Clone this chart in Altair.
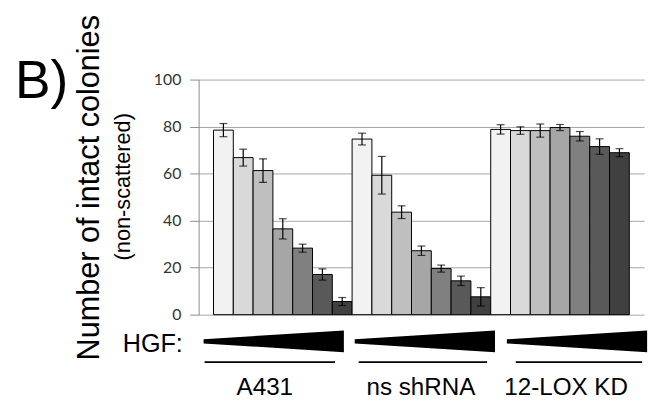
import altair as alt
import pandas as pd

groups = ["A431", "ns shRNA", "12-LOX KD"]
doses = [1, 2, 3, 4, 5, 6, 7]
means_a431 = [78.5, 66.8, 61.3, 36.5, 28.3, 17.1, 5.6]
err_a431 = [2.8, 3.6, 5.0, 4.3, 1.7, 2.4, 1.7]
means_ns = [74.7, 59.3, 43.6, 27.2, 19.6, 14.4, 7.6]
err_ns = [2.5, 8.0, 2.7, 2.0, 1.5, 2.0, 3.9]
means_lox = [78.8, 78.3, 78.3, 79.6, 75.9, 71.5, 68.9]
err_lox = [2.0, 1.6, 2.8, 1.3, 2.0, 3.3, 1.7]
shades = ["#f2f2f2", "#d9d9d9", "#bfbfbf", "#a6a6a6", "#808080", "#595959", "#404040"]
y_ticks = [0, 20, 40, 60, 80, 100]

rows = []
for g, (m, e) in enumerate(zip([means_a431, means_ns, means_lox], [err_a431, err_ns, err_lox])):
    for d in range(7):
        i = g * 7 + d
        rows.append({"group": groups[g], "dose": doses[d], "x0": i, "x1": i + 1,
                     "xc": i + 0.5, "mean": m[d], "lo": m[d] - e[d], "hi": m[d] + e[d]})
df = pd.DataFrame(rows)

xs = alt.Scale(domain=[-0.75, 21.75], nice=False, zero=False)
ys = alt.Scale(domain=[0, 100], nice=False)

base = alt.Chart(df)

bars = base.mark_rect(stroke="#000000", strokeWidth=1).encode(
    x=alt.X("x0:Q", scale=xs, axis=None),
    x2="x1:Q",
    y=alt.Y("mean:Q", scale=ys, axis=alt.Axis(
        values=y_ticks, title=None, grid=True, gridColor="#a6a6a6", gridWidth=1,
        domainColor="#8c8c8c", tickColor="#8c8c8c", tickSize=9, labelPadding=9,
        labelFont="Lato", labelFontSize=16, labelColor="#333333")),
    y2=alt.datum(0),
    fill=alt.Fill("dose:O", scale=alt.Scale(domain=doses, range=shades), legend=None),
)

err_rule = base.mark_rule(color="#000000", strokeWidth=1.2).encode(
    x=alt.X("xc:Q", scale=xs), y=alt.Y("lo:Q", scale=ys), y2="hi:Q")
cap_lo = base.mark_tick(color="#000000", orient="horizontal", size=8, thickness=1.2).encode(
    x=alt.X("xc:Q", scale=xs), y=alt.Y("lo:Q", scale=ys))
cap_hi = base.mark_tick(color="#000000", orient="horizontal", size=8, thickness=1.2).encode(
    x=alt.X("xc:Q", scale=xs), y=alt.Y("hi:Q", scale=ys))

layers = [bars, err_rule, cap_lo, cap_hi]

one = alt.Chart(pd.DataFrame({"k": [0]}))
wedge_path = "M -1 -0.03 L 1 -0.155 L 1 0.155 L -1 0.03 Z"
wedge_x = [76, 229, 383]
line_x = [(6, 138), (162, 292), (321, 449)]
label_x = [67, 225, 372]
for g in range(3):
    layers.append(one.mark_point(shape=wedge_path, filled=True, fill="#000000", opacity=1,
                                 strokeWidth=0, size=142 * 142).encode(
        x=alt.value(wedge_x[g]), y=alt.value(265)))
    layers.append(one.mark_rule(color="#000000", strokeWidth=1.8).encode(
        x=alt.value(line_x[g][0]), x2=alt.value(line_x[g][1]), y=alt.value(286)))
    layers.append(alt.Chart(pd.DataFrame({"t": [groups[g]]})).mark_text(
        font="Liberation Sans", fontSize=24.5, align="center", baseline="alphabetic",
        color="#000000").encode(text="t:N", x=alt.value(label_x[g]), y=alt.value(319)))

layers.append(alt.Chart(pd.DataFrame({"t": ["HGF:"]})).mark_text(
    font="Liberation Sans", fontSize=25.5, align="right", baseline="alphabetic",
    color="#000000").encode(text="t:N", x=alt.value(-16), y=alt.value(276)))
layers.append(alt.Chart(pd.DataFrame({"t": ["B)"]})).mark_text(
    font="Liberation Sans", fontSize=54, align="left", baseline="alphabetic",
    color="#000000").encode(text="t:N", x=alt.value(-186), y=alt.value(19)))
layers.append(alt.Chart(pd.DataFrame({"t": ["Number of intact colonies"]})).mark_text(
    font="Liberation Sans", fontSize=31, align="center", baseline="alphabetic", angle=270,
    color="#000000").encode(text="t:N", x=alt.value(-101), y=alt.value(109.5)))
layers.append(alt.Chart(pd.DataFrame({"t": ["(non-scattered)"]})).mark_text(
    font="Liberation Sans", fontSize=22, align="center", baseline="alphabetic", angle=270,
    color="#000000").encode(text="t:N", x=alt.value(-69), y=alt.value(108.5)))

chart = alt.layer(*layers).properties(
    width=451, height=238,
    autosize=alt.AutoSizeParams(type="none"),
    padding={"left": 193, "top": 70, "right": 13, "bottom": 90},
).configure_view(strokeWidth=0)

chart.save("out.html", embed_options={"renderer": "svg", "actions": False})
